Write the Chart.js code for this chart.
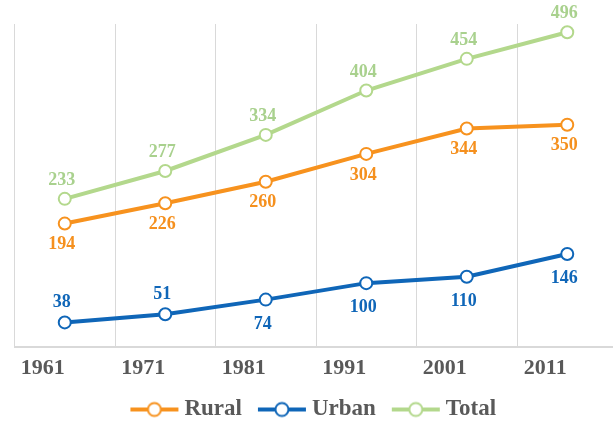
<!DOCTYPE html>
<html>
<head>
<meta charset="utf-8">
<script src="https://cdn.jsdelivr.net/npm/chart.js@4/dist/chart.umd.min.js"></script>
<style>
html, body { margin: 0; padding: 0; background: #ffffff; overflow: hidden; }
#wrap { width: 626px; height: 421px; }
</style>
</head>
<body>
<div id="wrap"><canvas id="c" width="626" height="421"></canvas></div>
<script>
const categories = ['1961', '1971', '1981', '1991', '2001', '2011'];
const rural = [194, 226, 260, 304, 344, 350];
const urban = [38, 51, 74, 100, 110, 146];
const total = [233, 277, 334, 404, 454, 496];
const seriesNames = ['Rural', 'Urban', 'Total'];

const COLORS = ['#F7921E', '#0F66B8', '#B3D88C'];
const LABEL_COLORS = ['#F5901E', '#0F66B8', '#A9D18E'];
// label placement per point: 1 = below, -1 = above
const labelSide = [
  [1, 1, 1, 1, 1, 1],
  [-1, -1, 1, 1, 1, 1],
  [-1, -1, -1, -1, -1, -1]
];
const FONT = '"Liberation Serif"';

function legendIcon(color) {
  const cv = document.createElement('canvas');
  cv.width = 50; cv.height = 18;
  const g = cv.getContext('2d');
  g.strokeStyle = color; g.lineWidth = 4;
  g.beginPath(); g.moveTo(1, 9); g.lineTo(49, 9); g.stroke();
  g.fillStyle = '#ffffff'; g.lineWidth = 2;
  g.beginPath(); g.arc(25, 9, 6.5, 0, Math.PI * 2); g.fill(); g.stroke();
  return cv;
}

const valueLabels = {
  id: 'valueLabels',
  afterDatasetsDraw(chart) {
    const ctx = chart.ctx;
    ctx.save();
    ctx.font = 'bold 18px ' + FONT;
    ctx.textAlign = 'center';
    ctx.textBaseline = 'middle';
    chart.data.datasets.forEach((ds, di) => {
      const meta = chart.getDatasetMeta(di);
      ctx.fillStyle = LABEL_COLORS[di];
      meta.data.forEach((pt, i) => {
        const side = labelSide[di][i];
        let dy;
        if (di === 0) dy = 21;
        else if (di === 1) dy = side < 0 ? -20 : 24.5;
        else dy = -18.5;
        ctx.fillText(String(ds.data[i]), pt.x - 3, pt.y + dy);
      });
    });
    ctx.restore();
  }
};

const mk = (label, data, i) => ({
  label, data,
  borderColor: COLORS[i],
  backgroundColor: '#ffffff',
  borderWidth: 4,
  pointRadius: 6,
  pointBorderWidth: 2,
  pointBackgroundColor: '#ffffff',
  pointBorderColor: COLORS[i],
  tension: 0,
  clip: false
});

function draw() {
  new Chart(document.getElementById('c'), {
    type: 'line',
    data: {
      labels: categories,
      datasets: [mk(seriesNames[0], rural, 0), mk(seriesNames[1], urban, 1), mk(seriesNames[2], total, 2)]
    },
    options: {
      responsive: false,
      animation: false,
      layout: { padding: { left: 14.5, right: 8.5, top: 24, bottom: -10 } },
      scales: {
        x: {
          offset: true,
          grid: { offset: true, color: '#D9D9D9', lineWidth: 1, drawTicks: false },
          border: { color: '#D9D9D9', width: 2 },
          ticks: {
            color: '#595959',
            font: { family: FONT, size: 22, weight: 'bold' },
            labelOffset: -22,
            padding: 9,
            maxRotation: 0
          },
          afterFit(scale) { scale.height = 30; }
        },
        y: {
          display: false,
          min: 0,
          max: 509
        }
      },
      plugins: {
        legend: {
          position: 'bottom',
          labels: {
            color: '#595959',
            font: { family: FONT, size: 23, weight: 'bold' },
            usePointStyle: true,
            pointStyleWidth: 37,
            padding: 21.5,
            generateLabels(chart) {
              return chart.data.datasets.map((ds, i) => ({
                text: ds.label,
                datasetIndex: i,
                pointStyle: legendIcon(COLORS[i]),
                fillStyle: '#ffffff',
                strokeStyle: COLORS[i],
                lineWidth: 0,
                fontColor: '#595959',
                hidden: false
              }));
            }
          }
        },
        tooltip: { enabled: false }
      }
    },
    plugins: [valueLabels]
  });
}

Promise.all([
  document.fonts.load('bold 22px "Liberation Serif"'),
  document.fonts.load('bold 23px "Liberation Serif"'),
  document.fonts.load('bold 18px "Liberation Serif"')
]).then(draw, draw);
</script>
</body>
</html>
